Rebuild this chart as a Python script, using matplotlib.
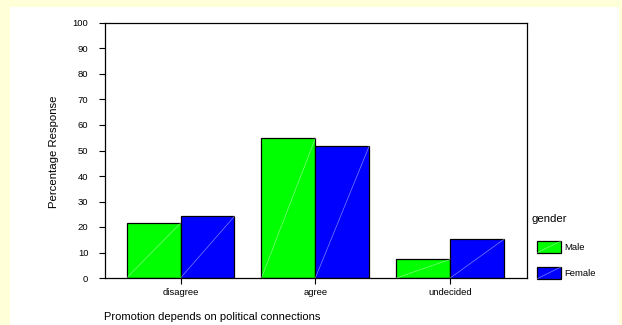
import numpy as np
import matplotlib.pyplot as plt
from matplotlib.patches import Rectangle

plt.rcParams['font.family'] = ['Liberation Sans', 'DejaVu Sans']

# percentage response by gender
categories = ['disagree', 'agree', 'undecided']
male = [21.5, 54.8, 7.3]
female = [24.2, 51.8, 15.2]
series = ['Male', 'Female']
colors = ['#00ff00', '#0000ff']

W, H = 622, 325
fig = plt.figure(figsize=(W / 100, H / 100), dpi=100)
fig.patch.set_facecolor('#ffffd8')

# white panel
fig.add_artist(Rectangle((10 / W, 0), 609 / W, (H - 7) / H,
                         transform=fig.transFigure, facecolor='white',
                         edgecolor='none', zorder=0))

ax = fig.add_axes([105 / W, (H - 278) / H, 422 / W, 255 / H])
ax.set_facecolor('white')

x = np.arange(len(categories))
w = 0.4
for vals, off, c in zip([male, female], [-w / 2, w / 2], colors):
    ax.bar(x + off, vals, width=w, color=c, edgecolor='black', linewidth=0.9, zorder=2)
    # thin diagonal across each bar
    for xi, v in zip(x + off, vals):
        ax.plot([xi - w / 2, xi + w / 2], [0, v], color='white', lw=0.5, alpha=0.5, zorder=3)

ax.set_xlim(-0.56, 2.57)
ax.set_ylim(0, 100)
ax.set_yticks(np.arange(0, 101, 10))
ax.set_xticks(x)
ax.set_xticklabels(categories)
ax.tick_params(axis='both', labelsize=6.8, length=4, width=0.8, direction='out')
ax.tick_params(axis='y', pad=8)
ax.tick_params(axis='x', pad=3)
for s in ax.spines.values():
    s.set_linewidth(0.9)

fig.text(54 / W, 1 - 152 / H, 'Percentage Response', rotation=90,
         ha='center', va='center', fontsize=8.2)
fig.text(104 / W, 1 - 317 / H, 'Promotion depends on political connections',
         ha='left', va='center', fontsize=8)

# legend
fig.text(532 / W, 1 - 219 / H, 'gender', ha='left', va='center', fontsize=8.2)
for i, (name, c) in enumerate(zip(series, colors)):
    y0 = 241 + i * 26
    fig.add_artist(Rectangle((536.5 / W, 1 - (y0 + 12) / H), 24.5 / W, 12 / H,
                             transform=fig.transFigure, facecolor=c,
                             edgecolor='black', linewidth=0.9))
    fig.add_artist(plt.Line2D([536.5 / W, 561 / W], [1 - (y0 + 12) / H, 1 - y0 / H],
                              transform=fig.transFigure, color='white', lw=0.5, alpha=0.5))
    fig.text(564 / W, 1 - (y0 + 6) / H, name, ha='left', va='center', fontsize=6.8)

fig.savefig('out.png', dpi=100, facecolor=fig.get_facecolor())
